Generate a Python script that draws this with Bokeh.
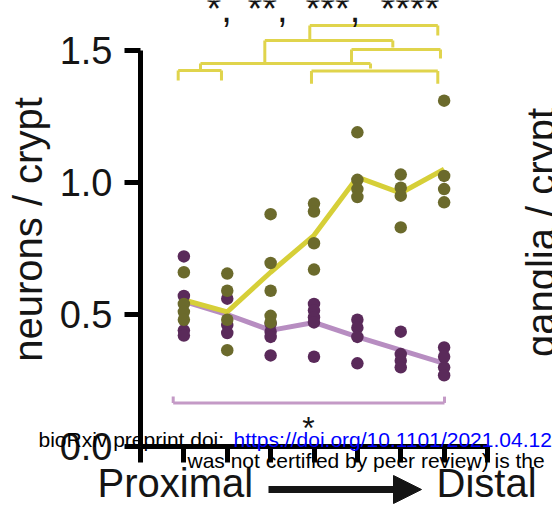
import numpy as np
from bokeh.plotting import figure
from bokeh.models import (Range1d, FixedTicker, Label, Arrow, NormalHead,
                          PrintfTickFormatter)
from bokeh.embed import file_html
from bokeh.resources import INLINE
from bokeh.core.properties import value

# ---------------- data ----------------
segments = [1, 2, 3, 4, 5, 6, 7]          # proximal -> distal positions

neuron_seg = [1, 1, 1, 1,
              2, 2, 2, 2,
              3, 3, 3, 3, 3,
              4, 4, 4, 4,
              5, 5, 5, 5,
              6, 6, 6, 6,
              7, 7, 7, 7]
neuron_val = [0.66, 0.54, 0.51, 0.48,
              0.655, 0.59, 0.48, 0.365,
              0.88, 0.695, 0.59, 0.495, 0.47,
              0.92, 0.89, 0.77, 0.67,
              1.19, 1.01, 0.975, 0.945,
              1.03, 0.98, 0.95, 0.83,
              1.31, 1.025, 0.975, 0.925]
neuron_mean = [0.555, 0.51, 0.66, 0.80, 1.02, 0.96, 1.05]

other_seg = [1, 1, 1, 1,
             2, 2, 2,
             3, 3, 3, 3,
             4, 4, 4, 4, 4,
             5, 5, 5, 5,
             6, 6, 6, 6,
             7, 7, 7, 7]
other_val = [0.72, 0.57, 0.44, 0.42,
             0.56, 0.46, 0.43,
             0.465, 0.435, 0.415, 0.345,
             0.54, 0.515, 0.49, 0.47, 0.34,
             0.48, 0.45, 0.415, 0.315,
             0.435, 0.35, 0.325, 0.30,
             0.375, 0.34, 0.30, 0.27]
other_mean = [0.55, 0.50, 0.44, 0.47, 0.415, 0.365, 0.315]

y_ticks = [0.0, 0.5, 1.0, 1.5]
x_ticks = [0, 1, 2, 3, 4, 5, 6, 7, 8]
star_labels = ["*,", "**,", "***,", "****"]

# ---------------- styling / layout ----------------
OLIVE = "#6b6a2c"
PURPLE = "#5a2a5a"
YELLOW_LINE = "#d6cf38"
LAV_LINE = "#b78dc1"
BRACKET_Y = "#e0d44c"
BRACKET_P = "#c49ac6"
INK = "#151515"
FONT = "Liberation Sans"

W, H = 552, 512
X0, Y0 = 140.0, 446.0        # pixel position of data origin
PX_X, PX_Y = 43.375, 264.0   # pixels per data unit


def dx(sx):
    return (sx - X0) / PX_X


def dy(sy):
    return (Y0 - sy) / PX_Y


p = figure(width=W, height=H,
           x_range=Range1d(dx(0), dx(W)), y_range=Range1d(dy(H), dy(0)),
           output_backend="svg", toolbar_location=None,
           min_border_left=0, min_border_right=0, min_border_top=0,
           min_border_bottom=0)
p.xgrid.visible = False
p.ygrid.visible = False
p.outline_line_color = None
p.background_fill_color = "white"
p.border_fill_color = "white"

# y axis (fixed at x = 0)
ya = p.yaxis[0]
ya.fixed_location = 0
ya.ticker = FixedTicker(ticks=y_ticks)
ya.bounds = (0, 1.5)
ya.formatter = PrintfTickFormatter(format="%.1f")
ya.major_label_text_font = FONT
ya.major_label_text_font_size = "38px"
ya.major_label_text_color = INK
ya.major_label_standoff = 12
ya.axis_line_width = 5
ya.major_tick_line_width = 5
ya.major_tick_out = 16
ya.major_tick_in = 0
ya.minor_tick_line_color = None

# x axis (fixed at y = 0)
xa = p.xaxis[0]
xa.fixed_location = 0
xa.ticker = FixedTicker(ticks=x_ticks)
xa.bounds = (0, 8)
xa.major_label_text_color = None
xa.axis_line_width = 5
xa.major_tick_line_width = 5
xa.major_tick_out = 16
xa.major_tick_in = 0
xa.minor_tick_line_color = None

# y-axis title
p.add_layout(Label(x=dx(49), y=dy(229), text="neurons / crypt", text_font=FONT,
                   text_font_size="40px", text_color=INK, angle=np.pi / 2,
                   text_align="center"))

# mean lines
p.line(segments, other_mean, line_color=LAV_LINE, line_width=5)
p.line(segments, neuron_mean, line_color=YELLOW_LINE, line_width=5)

# dots
p.scatter(other_seg, other_val, size=12.5, fill_color=PURPLE, line_color=None)
p.scatter(neuron_seg, neuron_val, size=12.5, fill_color=OLIVE, line_color=None)

# significance brackets (yellow): horizontal y, x0, x1, left leg end, right leg end
br_y = [1.595, 1.538, 1.504, 1.451, 1.424, 1.422]
br_x0 = [3.903, 2.866, 4.865, 1.383, 0.869, 3.942]
br_x1 = [6.854, 5.817, 6.916, 5.303, 1.867, 6.854]
br_l = [1.538, 1.455, 1.451, 1.424, 1.386, 1.374]
br_r = [1.557, 1.511, 1.470, 1.432, 1.386, 1.374]
p.segment(br_x0, br_y, br_x1, br_y, line_color=BRACKET_Y, line_width=3)
p.segment(br_x0, br_y, br_x0, br_l, line_color=BRACKET_Y, line_width=3)
p.segment(br_x1, br_y, br_x1, br_r, line_color=BRACKET_Y, line_width=3)

# purple bracket
pb_x0, pb_x1, pb_y, pb_leg = 0.754, 7.009, 0.165, 0.189
p.segment([pb_x0, pb_x0, pb_x1], [pb_y, pb_y, pb_y], [pb_x1, pb_x0, pb_x1],
          [pb_y, pb_leg, pb_leg], line_color=BRACKET_P, line_width=3)

# stars (top row cut by the edge) and the purple-bracket star
p.text([dx(206), dx(247), dx(305), dx(380)], [dy(8)] * 4, text=star_labels,
       text_font=value(FONT), text_font_size="38px", text_color=INK,
       text_baseline="alphabetic", text_align="left")
p.text([dx(308)], [dy(427)], text=["*"], text_font=value(FONT),
       text_font_size="32px", text_color=INK, text_align="center",
       text_baseline="alphabetic")

# Proximal -> Distal
p.add_layout(Label(x=dx(97), y=dy(504), text="Proximal", text_font=FONT,
                   text_font_size="40px", text_color=INK))
p.add_layout(Label(x=dx(436), y=dy(504), text="Distal", text_font=FONT,
                   text_font_size="40px", text_color=INK))
p.add_layout(Arrow(end=NormalHead(size=28, fill_color=INK, line_color=INK),
                   x_start=dx(268), y_start=dy(489), x_end=dx(421), y_end=dy(489),
                   line_width=7, line_color=INK))

# next panel's axis title (cut by the right edge)
p.add_layout(Label(x=dx(562), y=dy(232), text="ganglia / crypt", text_font=FONT,
                   text_font_size="40px", text_color=INK, angle=np.pi / 2,
                   text_align="center"))

# preprint watermark
p.add_layout(Label(x=dx(38), y=dy(450), text="bioRxiv preprint doi: ", text_font=FONT,
                   text_font_size="21px", text_color="black"))
p.add_layout(Label(x=dx(233), y=dy(450), text="https://doi.org/10.1101/2021.04.12",
                   text_font=FONT, text_font_size="21px", text_color="#0000ff"))
p.add_layout(Label(x=dx(187), y=dy(471), text="was not certified by peer review) is the",
                   text_font=FONT, text_font_size="21px", text_color="black"))

open("out.html", "w").write(file_html(p, INLINE))
